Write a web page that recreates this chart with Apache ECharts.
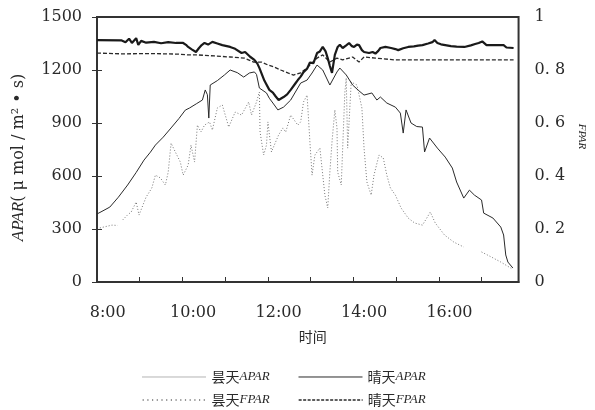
<!DOCTYPE html>
<html>
<head>
<meta charset="utf-8">
<script src="https://cdn.jsdelivr.net/npm/echarts@6/dist/echarts.min.js"></script>
<style>
  html, body { margin: 0; padding: 0; background: #fff; }
  #chart { width: 595px; height: 410px; }
</style>
</head>
<body>
<div id="chart"></div>
<script>
// Time axis runs from 7:45 to 17:37; x values are minutes after 7:45.
const AXIS_START = 7 * 60 + 45;
const AXIS_END = 17 * 60 + 37;
const xLabels = ['8:00', '10:00', '12:00', '14:00', '16:00'];

// Sunny day APAR (μmol/m²·s)
const sunnyAparTime = ['7:45','7:52','8:03','8:15','8:28','8:40','8:51','9:00','9:07','9:18','9:29','9:40','9:49','9:55','10:05','10:13','10:17','10:20','10:22','10:24','10:34','10:44','10:52','11:02','11:11','11:19','11:26','11:29','11:33','11:43','11:47','11:52','11:59','12:07','12:17','12:31','12:40','12:47','12:54','13:02','13:12','13:22','13:26','13:35','13:44','13:52','14:00','14:11','14:18','14:23','14:32','14:44','14:51','14:55','14:59','15:06','15:14','15:22','15:25','15:32','15:43','15:54','16:04','16:10','16:20','16:28','16:35','16:45','16:48','17:01','17:12','17:16','17:19','17:22','17:29'];
const sunnyApar = [385,400,424,480,549,620,690,735,775,820,872,925,973,985,1010,1030,1087,1060,928,1115,1140,1172,1200,1185,1160,1183,1189,1175,1098,1070,1040,1013,974,990,1030,1126,1143,1183,1228,1200,1115,1189,1211,1172,1115,1085,1058,1070,1030,1047,1013,990,956,843,974,900,880,877,736,815,758,707,645,566,475,520,492,464,390,362,311,266,153,113,79];

// Cloudy day APAR (μmol/m²·s); null marks a gap in the record
const cloudyAparTime = ['7:49','8:06','8:14','8:17','8:21','8:28','8:33','8:40','8:44','8:48','8:54','9:02','9:07','9:14','9:21','9:25','9:29','9:35','9:42','9:46','9:53','9:57','10:02','10:06','10:11','10:16','10:23','10:27','10:34','10:41','10:50','10:59','11:08','11:18','11:22','11:29','11:33','11:34','11:39','11:43','11:45','11:50','11:54','12:00','12:06','12:10','12:17','12:27','12:31','12:35','12:40','12:44','12:47','12:51','12:58','13:05','13:09','13:12','13:15','13:19','13:22','13:23','13:28','13:33','13:35','13:37','13:42','13:50','13:57','14:00','14:04','14:10','14:14','14:21','14:27','14:32','14:37','14:44','14:52','15:02','15:11','15:22','15:29','15:33','15:40','15:53','16:06','16:20','16:30','16:45','16:59','17:12','17:26','17:29'];
const cloudyApar = [306,322,320,null,351,380,396,453,379,420,481,532,605,589,549,622,786,736,679,605,662,775,679,888,849,888,906,860,985,1002,877,962,945,1019,945,1019,1075,849,719,775,906,736,775,832,872,849,945,888,906,1019,1058,792,605,719,758,492,419,622,792,974,872,622,549,1070,1155,758,1132,1115,985,758,566,492,605,719,702,605,532,492,419,362,334,322,368,396,334,266,226,198,null,170,141,113,79,70];

// Cloudy day FPAR
const cloudyFparTime = ['7:45','8:19','8:25','8:30','8:34','8:40','8:43','8:47','8:54','9:05','9:15','9:25','9:36','9:46','9:50','9:53','9:58','10:04','10:08','10:12','10:16','10:21','10:27','10:34','10:41','10:52','10:59','11:08','11:13','11:20','11:26','11:30','11:33','11:40','11:47','11:52','11:56','12:00','12:07','12:12','12:17','12:24','12:27','12:31','12:35','12:40','12:44','12:49','12:54','12:58','13:02','13:06','13:09','13:12','13:15','13:19','13:23','13:26','13:30','13:35','13:39','13:43','13:46','13:50','13:53','13:57','14:00','14:07','14:12','14:16','14:20','14:23','14:30','14:38','14:44','14:48','14:55','15:02','15:10','15:16','15:22','15:30','15:36','15:39','15:43','15:48','15:54','16:02','16:10','16:21','16:30','16:36','16:41','16:46','16:48','16:52','17:04','17:16','17:20','17:30'];
const cloudyFpar = [0.913,0.912,0.905,0.918,0.902,0.920,0.895,0.910,0.903,0.906,0.901,0.905,0.902,0.902,0.895,0.887,0.878,0.868,0.882,0.894,0.902,0.896,0.906,0.900,0.894,0.887,0.880,0.864,0.868,0.850,0.838,0.825,0.808,0.760,0.725,0.715,0.700,0.687,0.698,0.708,0.725,0.751,0.762,0.775,0.792,0.805,0.828,0.826,0.864,0.870,0.887,0.870,0.845,0.815,0.789,0.857,0.887,0.895,0.883,0.893,0.902,0.890,0.887,0.896,0.894,0.875,0.868,0.864,0.868,0.862,0.872,0.883,0.887,0.883,0.879,0.875,0.882,0.887,0.889,0.892,0.894,0.900,0.905,0.913,0.902,0.897,0.894,0.890,0.888,0.887,0.893,0.898,0.902,0.908,0.913,0.894,0.894,0.894,0.885,0.883];

// Sunny day FPAR
const sunnyFparTime = ['7:45','8:20','9:00','9:40','9:53','10:06','10:30','10:52','11:12','11:25','11:36','11:45','11:54','12:03','12:13','12:21','12:31','12:40','12:44','12:54','13:02','13:12','13:22','13:30','13:44','13:53','14:00','14:16','14:44','16:00','17:30'];
const sunnyFpar = [0.864,0.861,0.862,0.860,0.857,0.857,0.853,0.849,0.845,0.830,0.830,0.819,0.811,0.800,0.789,0.781,0.789,0.808,0.819,0.845,0.857,0.830,0.845,0.838,0.849,0.830,0.849,0.845,0.838,0.838,0.838];

const toX = s => { const p = s.split(':'); return (+p[0]) * 60 + (+p[1]) - AXIS_START; };
const pairs = (times, vals) => times.map((t, i) => [toX(t), vals[i] === null ? '-' : vals[i]]);
const fmtTime = v => { const m = v + AXIS_START; return Math.floor(m / 60) + ':' + String(m % 60).padStart(2, '0'); };

const INK = '#2a2a2a';
const numFont = 'DejaVu Serif';

const legendRich = {
  c: { fontFamily: 'Noto Sans CJK SC', fontSize: 14, color: INK },
  e: { fontFamily: 'Liberation Serif', fontStyle: 'italic', fontSize: 13, color: INK }
};
const legendFmt = name => '{c|' + name.slice(0, 2) + '}{e|' + name.slice(2) + '}';
const makeLegend = (name, left, top, lineStyle) => ({
  data: [{ name: name, lineStyle: lineStyle, itemStyle: { opacity: 0 } }],
  left: left, top: top, itemWidth: 64, itemHeight: 12, itemGap: 0,
  padding: 0, formatter: legendFmt, textStyle: { rich: legendRich },
  selectedMode: false
});

const chart = echarts.init(document.getElementById('chart'), null, { renderer: 'canvas' });
chart.setOption({
  animation: false,
  backgroundColor: '#fff',
  grid: { left: 97, right: 67, top: 17, bottom: 128, show: true, borderColor: '#333', borderWidth: 2, backgroundColor: 'transparent' },
  legend: [
    makeLegend('昙天APAR', 142, 370, { color: '#666', width: 1, type: [1, 1] }),
    makeLegend('晴天APAR', 298, 370, { color: INK, width: 1, type: 'solid' }),
    makeLegend('昙天FPAR', 142, 393, { color: INK, width: 1.2, type: [1.2, 3.5] }),
    makeLegend('晴天FPAR', 298, 393, { color: INK, width: 1.3, type: [3, 1.5] })
  ],
  xAxis: [
    {
      type: 'value', min: 0, max: AXIS_END - AXIS_START, interval: 15,
      axisLine: { show: true, lineStyle: { color: '#333', width: 2 } },
      axisTick: { show: false },
      splitLine: { show: false },
      axisLabel: {
        margin: 23, fontFamily: numFont, fontSize: 16, color: INK,
        formatter: v => ((v - 15) % 120 === 0 && xLabels.includes(fmtTime(v))) ? fmtTime(v) : ''
      },
      name: '时间', nameLocation: 'middle', nameGap: 48,
      nameTextStyle: { fontFamily: 'Noto Sans CJK SC', fontSize: 14, color: INK, padding: [0, 0, 0, 10] }
    },
    {
      type: 'value', min: 0, max: AXIS_END - AXIS_START, interval: 60, position: 'bottom',
      axisLine: { show: false },
      axisTick: { show: true, inside: true, length: 5, lineStyle: { color: '#333', width: 1 } },
      axisLabel: { show: false },
      splitLine: { show: false }
    }
  ],
  yAxis: [
    {
      type: 'value', min: 0, max: 1500, interval: 300,
      axisLine: { show: true, lineStyle: { color: '#333', width: 2 } },
      axisTick: { show: true, inside: true, length: 5, lineStyle: { color: '#333' } },
      splitLine: { show: false },
      axisLabel: { margin: 15, fontFamily: numFont, fontSize: 16, color: INK, formatter: v => String(v) },
      name: '{i|APAR}{n|( μ mol / m² • s)}', nameLocation: 'middle', nameRotate: 90, nameGap: 70,
      nameTextStyle: {
        padding: [0, 16, 0, 0],
        rich: {
          i: { fontFamily: 'Liberation Serif', fontStyle: 'italic', fontSize: 17, color: INK },
          n: { fontFamily: 'DejaVu Serif', fontSize: 16, color: INK }
        }
      }
    },
    {
      type: 'value', min: 0, max: 1, interval: 0.2, position: 'right',
      axisLine: { show: true, lineStyle: { color: '#333', width: 2 } },
      axisTick: { show: true, inside: true, length: 5, lineStyle: { color: '#333' } },
      splitLine: { show: false },
      axisLabel: {
        margin: 16, fontFamily: numFont, fontSize: 16, color: INK,
        formatter: v => (v === 0 || v === 1) ? String(v) : v.toFixed(1).replace('.', '. ')
      },
      name: 'FPAR', nameLocation: 'middle', nameRotate: -90, nameGap: 37,
      nameTextStyle: { fontFamily: 'Liberation Serif', fontStyle: 'italic', fontSize: 11, color: INK, padding: [0, 26, 0, 0] }
    }
  ],
  series: [
    {
      name: '昙天APAR', type: 'line', xAxisIndex: 0, yAxisIndex: 0, symbol: 'none', connectNulls: false,
      data: pairs(cloudyAparTime, cloudyApar), color: '#777',
      lineStyle: { color: '#777', width: 1, type: [1, 2] }, z: 2
    },
    {
      name: '晴天APAR', type: 'line', xAxisIndex: 0, yAxisIndex: 0, symbol: 'none',
      data: pairs(sunnyAparTime, sunnyApar), color: INK,
      lineStyle: { color: INK, width: 1, type: 'solid' }, z: 3
    },
    {
      name: '昙天FPAR', type: 'line', xAxisIndex: 0, yAxisIndex: 1, symbol: 'none',
      data: pairs(cloudyFparTime, cloudyFpar), color: '#1a1a1a',
      lineStyle: { color: '#1a1a1a', width: 2.2, type: 'solid' }, z: 4
    },
    {
      name: '晴天FPAR', type: 'line', xAxisIndex: 0, yAxisIndex: 1, symbol: 'none',
      data: pairs(sunnyFparTime, sunnyFpar), color: INK,
      lineStyle: { color: INK, width: 1.3, type: [4, 2] }, z: 3
    }
  ]
});
</script>
</body>
</html>
